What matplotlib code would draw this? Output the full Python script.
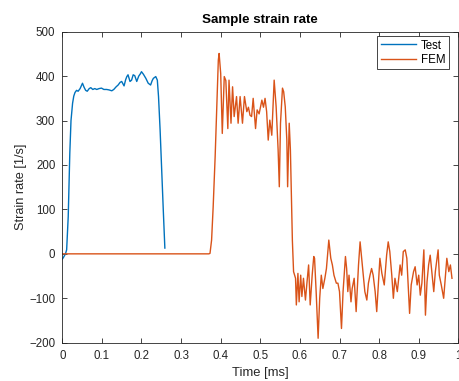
import matplotlib
matplotlib.use("Agg")
import matplotlib.pyplot as plt

plt.rcParams['font.family'] = ['Liberation Sans', 'DejaVu Sans']

# Measured strain rate (Test)
test_t = [0, 0.003, 0.008, 0.011, 0.015, 0.019, 0.022, 0.026, 0.029, 0.032, 0.036,
          0.040, 0.045, 0.051, 0.055, 0.059, 0.063, 0.068, 0.072, 0.077, 0.082,
          0.087, 0.093, 0.099, 0.105, 0.112, 0.118, 0.125, 0.130, 0.136, 0.141,
          0.146, 0.150, 0.156, 0.160, 0.163, 0.166, 0.171, 0.175, 0.179, 0.183,
          0.188, 0.193, 0.197, 0.200, 0.205, 0.211, 0.217, 0.223, 0.227, 0.230,
          0.236, 0.240, 0.243, 0.247, 0.251, 0.255, 0.259]
test_v = [-12, -8, 0, 9, 84, 227, 300, 339, 355, 363, 368,
          366, 372, 384, 375, 368, 366, 372, 374, 370, 372,
          370, 372, 373, 370, 370, 369, 367, 370, 376, 380,
          386, 388, 378, 392, 399, 403, 388, 391, 403, 401,
          388, 400, 405, 410, 404, 395, 384, 380, 390, 395,
          399, 391, 354, 279, 189, 99, 13]

# Simulated strain rate (FEM)
fem_t = [0, 0.300, 0.370, 0.373, 0.377, 0.381, 0.386, 0.390, 0.394, 0.396,
         0.400, 0.404, 0.409, 0.413, 0.418, 0.421, 0.426, 0.430, 0.434, 0.440,
         0.444, 0.449, 0.455, 0.460, 0.466, 0.470, 0.474, 0.478, 0.482, 0.488,
         0.492, 0.497, 0.504, 0.508, 0.512, 0.516, 0.520, 0.524, 0.529, 0.535,
         0.540, 0.545, 0.548, 0.551, 0.556, 0.559, 0.563, 0.567, 0.569, 0.573,
         0.576, 0.579, 0.581, 0.584, 0.589, 0.591, 0.595, 0.598, 0.602, 0.605,
         0.609, 0.614, 0.618, 0.622, 0.626, 0.631, 0.635, 0.637, 0.641, 0.646,
         0.650, 0.654, 0.658, 0.663, 0.667, 0.673, 0.678, 0.682, 0.686, 0.692,
         0.696, 0.700, 0.705, 0.709, 0.715, 0.718, 0.721, 0.724, 0.729, 0.732,
         0.737, 0.742, 0.748, 0.752, 0.756, 0.760, 0.764, 0.769, 0.773, 0.777,
         0.781, 0.785, 0.790, 0.794, 0.798, 0.802, 0.807, 0.813, 0.819, 0.823,
         0.827, 0.832, 0.836, 0.840, 0.846, 0.853, 0.857, 0.861, 0.866, 0.870,
         0.875, 0.877, 0.881, 0.887, 0.891, 0.896, 0.900, 0.904, 0.908, 0.913,
         0.917, 0.921, 0.925, 0.929, 0.934, 0.938, 0.942, 0.949, 0.952, 0.957,
         0.963, 0.967, 0.971, 0.976, 0.980, 0.984]
fem_v = [0, 0, 0, 1, 31, 106, 219, 331, 436, 451,
         406, 271, 399, 390, 282, 391, 294, 376, 309, 354,
         294, 354, 294, 354, 320, 330, 312, 309, 350, 282,
         324, 315, 346, 330, 350, 320, 256, 301, 267, 391,
         331, 234, 151, 294, 373, 365, 331, 256, 151, 294,
         234, 106, 30, -40, -55, -115, -44, -108, -48, -96,
         -55, -104, -63, -25, -115, -48, -6, -10, -85, -190,
         -100, -48, -78, -55, -33, 31, -10, -25, -48, -66,
         -66, -85, -168, -85, -6, -33, -85, -48, -108, -78,
         -55, -130, -25, 27, -10, -48, -85, -104, -66, -48,
         -33, -48, -85, -130, -70, -10, -44, -70, -3, 27,
         5, -48, -100, -55, -85, -25, -48, 5, 9, -10,
         -100, -134, -70, -40, -29, -70, -48, -93, -66, 9,
         -138, -63, -25, -3, -48, -85, -40, 9, -48, -70,
         -100, -55, -10, -40, -25, -55]

x_ticks = [0, 0.1, 0.2, 0.3, 0.4, 0.5, 0.6, 0.7, 0.8, 0.9, 1]
x_tick_labels = ['0', '0.1', '0.2', '0.3', '0.4', '0.5', '0.6', '0.7', '0.8', '0.9', '1']
y_ticks = [-200, -100, 0, 100, 200, 300, 400, 500]

dark = '#262626'
fig = plt.figure(figsize=(4.59, 3.81), dpi=100)
ax = fig.add_axes([0.1357, 0.1005, 0.8628, 0.8163])

ax.plot(test_t, test_v, color='#0072BD', lw=1.0, label='Test')
ax.plot(fem_t, fem_v, color='#D95319', lw=1.0, label='FEM')

ax.set_xlim(0, 1)
ax.set_ylim(-200, 500)
ax.set_xticks(x_ticks)
ax.set_xticklabels(x_tick_labels)
ax.set_yticks(y_ticks)
ax.tick_params(direction='in', length=3.5, width=0.6, colors=dark,
               labelsize=8.3, top=True, right=True)
ax.tick_params(axis='x', pad=5)
ax.tick_params(axis='y', pad=5)
for s in ax.spines.values():
    s.set_color(dark)
    s.set_linewidth(0.6)

ax.set_title('Sample strain rate', fontsize=9.6, fontweight='bold', color='black', pad=6)
ax.set_xlabel('Time [ms]', fontsize=9.4, color=dark, labelpad=4)
ax.set_ylabel('Strain rate [1/s]', fontsize=9.2, color=dark, labelpad=1.5)

leg = ax.legend(loc='upper right', bbox_to_anchor=(0.9765, 0.986), borderaxespad=0,
                fontsize=8.3, fancybox=False, framealpha=1, edgecolor=dark,
                handlelength=3.1, handletextpad=0.4, borderpad=0.3, labelspacing=0.2)
leg.get_frame().set_linewidth(0.6)

fig.savefig('out.png', dpi=100)
